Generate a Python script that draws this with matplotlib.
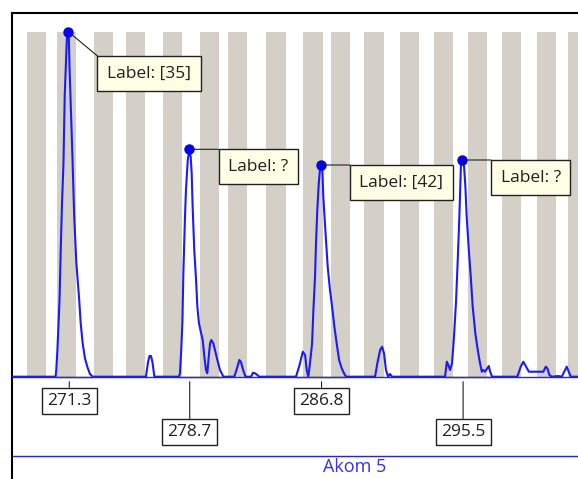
import matplotlib.pyplot as plt

plt.rcParams['font.family'] = ['Open Sans', 'DejaVu Sans']

# allele bin centres (bp) for the grey stripes
bin_centres = [269.27, 271.12, 273.42, 275.35, 277.66, 279.93, 281.62, 284.00,
               286.27, 287.96, 290.03, 292.21, 294.28, 296.36, 298.45, 300.61,
               302.55]
bin_width = 1.18
bin_top = 3450

# trace (size in bp, height in RFU)
trace_bp = [
    267.7, 270.46, 270.50, 270.57, 270.70, 270.79, 270.86, 270.94, 271.02, 271.08,
    271.16, 271.24, 271.27, 271.31, 271.37, 271.50, 271.60, 271.73, 271.91,
    272.00, 272.12, 272.26, 272.41, 272.57, 272.74,
    276.01, 276.14, 276.23, 276.32, 276.41, 276.53,
    278.04, 278.10, 278.17, 278.25, 278.31, 278.41, 278.47, 278.58, 278.68, 278.76,
    278.82, 278.88, 278.98, 279.09, 279.17, 279.27, 279.38, 279.50, 279.60, 279.70,
    279.78, 279.87, 279.95, 280.03, 280.15, 280.25, 280.40, 280.56, 280.77,
    281.44, 281.61, 281.75, 281.85, 281.98, 282.13,
    282.47, 282.59, 282.71, 282.84, 282.96,
    285.23, 285.45, 285.65, 285.79, 285.89, 285.99, 286.09, 286.22, 286.30, 286.40,
    286.46, 286.54, 286.63, 286.71, 286.75, 286.85, 286.91, 287.06, 287.18, 287.32,
    287.45, 287.59, 287.73, 287.88, 288.04, 288.18, 288.31,
    290.09, 290.23, 290.40, 290.52, 290.64, 290.76, 290.89, 291.01, 291.13,
    294.39, 294.50, 294.59, 294.70, 294.82, 294.94, 295.07, 295.17, 295.27, 295.33,
    295.37, 295.42, 295.56, 295.64, 295.72, 295.85, 295.97, 296.09, 296.25, 296.40,
    296.54, 296.65, 296.74, 296.85, 296.99, 297.08, 297.16, 297.28,
    298.83, 299.04, 299.20, 299.37, 299.54, 300.43, 300.58, 300.68, 300.80, 300.95,
    301.35, 301.56, 301.77, 301.87, 301.99, 302.12, 302.7,
]
trace_rfu = [
    0, 0, 67, 267, 767, 1367, 1767, 2117, 2817, 3067,
    3417, 3450, 3417, 3117, 2817, 2167, 1617, 1147, 767,
    537, 337, 187, 97, 27, 0,
    0, 147, 207, 207, 147, 0,
    0, 34, 237, 537, 1037, 1600, 1867, 2167, 2274, 2200,
    2037, 1700, 1267, 967, 700, 534, 450, 367, 200, 67,
    34, 200, 334, 367, 334, 267, 167, 67, 0,
    0, 87, 167, 147, 67, 0,
    0, 40, 34, 20, 0,
    0, 117, 250, 217, 67, 0, 134, 334, 667, 1000,
    1334, 1667, 1934, 2084, 2117, 2067, 1800, 1400, 1100, 867,
    700, 500, 334, 167, 84, 34, 0,
    0, 134, 267, 300, 234, 67, 0, 27, 0,
    0, 150, 117, 67, 134, 400, 767, 1167, 1600, 1934,
    2134, 2167, 2100, 1900, 1600, 1267, 1000, 700, 434, 267,
    134, 50, 67, 50, 84, 107, 50, 0,
    0, 100, 150, 100, 50, 50, 100, 84, 17, 0,
    7, 0, 67, 100, 50, 0, 0,
]

# called peaks
peak_bp = [271.24, 278.68, 286.75, 295.42]
peak_rfu = [3450, 2274, 2117, 2167]
peak_sizes = ['271.3', '278.7', '286.8', '295.5']
size_bp = [271.3, 278.7, 286.8, 295.5]
peak_labels = ['Label: [35]', 'Label: ?', 'Label: [42]', 'Label: ?']
peak_start = [270.46, 278.04, 285.23, 294.39]
peak_end = [272.74, 280.77, 288.31, 297.28]
panel_name = 'Akom 5'

fig = plt.figure(figsize=(5.78, 4.79), dpi=100)
ax = fig.add_axes([12 / 578, 0, 566 / 578, 466 / 479])
ax.set_xlim(267.78, 302.56)
ax.set_ylim(-1023, 3637)

ax.bar(bin_centres, bin_top, width=bin_width, bottom=0, color='#d4d0c8',
       linewidth=0, zorder=1)
ax.axhline(0, color='#2020ff', lw=1.0, zorder=2)
ax.plot(trace_bp, trace_rfu, color='#1a1aff', lw=1.5, zorder=3)
ax.hlines([0] * len(peak_start), peak_start, peak_end, color='#404040',
          lw=1.0, zorder=4)
ax.plot(peak_bp, peak_rfu, 'o', color='#0000ff', ms=6.5, zorder=5)

# labels above the peaks
fs = 12.5
pad_top = 0.55
for i, (x, h, lab) in enumerate(zip(peak_bp, peak_rfu, peak_labels)):
    dx, dy = 21, (-17.5 if i == 0 else 0)
    ax.annotate('', xy=(x, h), xytext=(dx, dy), textcoords='offset points',
                arrowprops=dict(arrowstyle='-', color='#202020', lw=0.8,
                                shrinkA=0, shrinkB=0), zorder=6)
    p = pad_top * fs
    ax.annotate(lab, xy=(x, h), xytext=(dx + p, dy - p),
                textcoords='offset points', ha='left', va='top', fontsize=fs,
                color='#202020', zorder=7,
                bbox=dict(boxstyle=f'square,pad={pad_top}', fc='#ffffe6',
                          ec='#202020', lw=1.0))

# size labels below the baseline
pad_bot = 0.3
for i, (x, s) in enumerate(zip(size_bp, peak_sizes)):
    dy = -8 if i % 2 == 0 else -30.5
    p = pad_bot * fs
    ax.annotate(s, xy=(x, 0), xytext=(0, dy - p), textcoords='offset points',
                ha='center', va='top', fontsize=fs, color='#202020', zorder=7,
                bbox=dict(boxstyle=f'square,pad={pad_bot}', fc='white',
                          ec='#202020', lw=1.0),
                arrowprops=dict(arrowstyle='-', color='#202020', lw=0.8,
                                relpos=(0.5, 1), shrinkA=0, shrinkB=3.6))

ax.axhline(-793, color='#2020ff', lw=1.0, zorder=2)
ax.text(0.6045, -903, panel_name, transform=ax.get_yaxis_transform(),
        ha='center', va='center', fontsize=13, color='#3030ff')

for side in ['right', 'bottom']:
    ax.spines[side].set_visible(False)
for side in ['left', 'top']:
    ax.spines[side].set_linewidth(1.5)
    ax.spines[side].set_color('black')
ax.set_xticks([])
ax.set_yticks([])

fig.savefig('out.png', dpi=100)
